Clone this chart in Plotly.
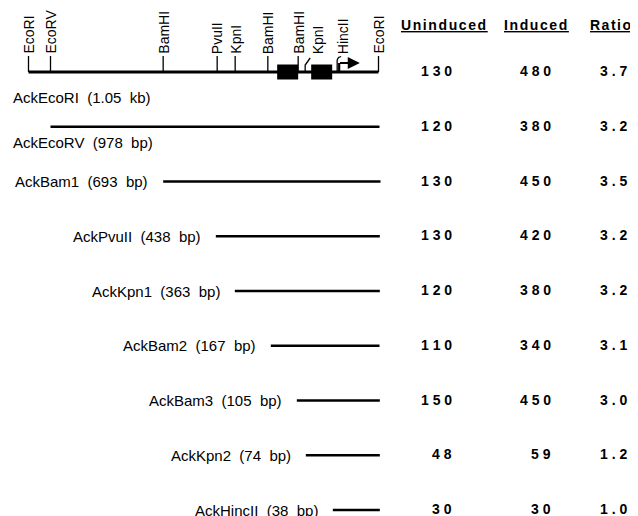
import plotly.graph_objects as go

# ---------------- data ----------------
# restriction map (positions in bp from the left EcoRI site)
site_names = ["EcoRI", "EcoRV", "BamHI", "PvuII", "KpnI", "BamHI", "BamHI", "KpnI", "HincII", "EcoRI"]
site_pos = [0, 66, 404, 566, 620, 718, 809, 830, 926, 1050]
site_label_pos = [0, 66, 404, 566, 620, 718, 809, 868, 944, 1050]
bent_sites = [7, 8]          # sites drawn with a bent leader line
map_length = 1050

# coding-region boxes on the map (bp)
box_start = [746, 848]
box_end = [809, 911]

# promoter arrow (bp)
arrow_start = 932
arrow_end = 994

# deletion constructs
construct_names = ["AckEcoRI (1.05 kb)", "AckEcoRV (978 bp)", "AckBam1 (693 bp)",
                   "AckPvuII (438 bp)", "AckKpn1 (363 bp)", "AckBam2 (167 bp)",
                   "AckBam3 (105 bp)", "AckKpn2 (74 bp)", "AckHincII (38 bp)"]
construct_start = [0, 66, 404, 562, 619, 727, 805, 832, 913]
construct_end = [1050, 1053, 1056, 1054, 1054, 1053, 1054, 1054, 1054]

uninduced = [130, 120, 130, 130, 120, 110, 150, 48, 30]
induced = [480, 380, 450, 420, 380, 340, 450, 59, 30]
ratio = ["3.7", "3.2", "3.5", "3.2", "3.2", "3.1", "3.0", "1.2", "1.0"]
headers = ["Uninduced", "Induced", "Ratio"]

# ---------------- layout helpers ----------------
OFF = 8                 # page body margin of the html page
W, H = 638 - OFF, 516 - OFF
ROW = 54.75            # pixels per row
PXBP = 1 / 3           # pixels per bp
X0 = 28.5 - OFF        # pixel of bp 0 (inside the figure)
Y0 = 72 - OFF          # pixel of row 0 (inside the figure)


def dy(px):
    return px / ROW


def px_x(px):
    # window pixel -> paper fraction
    return (px - OFF) / W


FONT = "Liberation Sans, Arial, Helvetica, sans-serif"

fig = go.Figure()

# main map line
fig.add_trace(go.Scatter(x=[0, map_length], y=[0, 0], mode="lines",
                         line=dict(color="black", width=3), hoverinfo="skip"))

# site ticks
tx, ty = [], []
for i, p in enumerate(site_pos):
    if i in bent_sites:
        continue
    tx += [p, p, None]
    ty += [0, -dy(16), None]
fig.add_trace(go.Scatter(x=tx, y=ty, mode="lines",
                         line=dict(color="black", width=1.3), hoverinfo="skip"))

# bent leader lines (KpnI, HincII)
bx, by = [], []
bx += [site_pos[7], site_pos[7], site_pos[7] + 15, None]
by += [0, -dy(7), -dy(14), None]
bx += [site_pos[8], site_pos[8], site_pos[8] + 4, site_pos[8] + 12, None]
by += [0, -dy(12), -dy(14.5), -dy(15.5), None]
fig.add_trace(go.Scatter(x=bx, y=by, mode="lines",
                         line=dict(color="black", width=1.3), hoverinfo="skip"))

# boxes
for s, e in zip(box_start, box_end):
    fig.add_shape(type="rect", x0=s, x1=e, y0=-dy(7.5), y1=dy(7.5),
                  fillcolor="black", line=dict(color="black", width=0))

# promoter arrow
fig.add_trace(go.Scatter(x=[arrow_start, arrow_start], y=[0, -dy(9)],
                         mode="lines", line=dict(color="black", width=2.2), hoverinfo="skip"))
fig.add_annotation(x=arrow_end, y=-dy(9), ax=arrow_start - 2, ay=-dy(9), axref="x", ayref="y",
                   xref="x", yref="y", text="", showarrow=True, arrowhead=2,
                   arrowsize=1.1, arrowwidth=2.2, arrowcolor="black")

# site labels (rotated)
for name, p in zip(site_names, site_label_pos):
    fig.add_annotation(x=p, y=0, xref="x", yref="y", text=name, textangle=-90,
                       showarrow=False, xanchor="center", yanchor="bottom", yshift=16,
                       font=dict(family=FONT, size=14, color="black"))

# construct lines
cx, cy = [], []
for i, (s, e) in enumerate(zip(construct_start, construct_end)):
    if i == 0:
        continue
    cx += [s, e, None]
    cy += [i, i, None]
fig.add_trace(go.Scatter(x=cx, y=cy, mode="lines",
                         line=dict(color="black", width=2.5), hoverinfo="skip"))

# construct labels
LEFT_BP = (11 - 28.5) * 3
for i, (name, s) in enumerate(zip(construct_names, construct_start)):
    txt = name.replace(" ", "\u00a0 ")
    if i == 0:
        fig.add_annotation(x=LEFT_BP, y=i, xref="x", yref="y", text=txt, showarrow=False,
                           xanchor="left", yanchor="middle", yshift=-25,
                           font=dict(family=FONT, size=15, color="black"))
    elif i == 1:
        fig.add_annotation(x=LEFT_BP, y=i, xref="x", yref="y", text=txt, showarrow=False,
                           xanchor="left", yanchor="middle", yshift=-16,
                           font=dict(family=FONT, size=15, color="black"))
    else:
        fig.add_annotation(x=s, y=i, xref="x", yref="y", text=txt, showarrow=False,
                           xanchor="right", yanchor="middle", xshift=-13,
                           font=dict(family=FONT, size=15, color="black"))

# table headers
col_left = [px_x(399), px_x(502), px_x(588)]
col_spacing = [1.6, 1.6, 1.5]
col_right = [px_x(454), px_x(553), px_x(629)]
for h, xl, ls in zip(headers, col_left, col_spacing):
    fig.add_annotation(x=xl, y=dy(25 - 72), xref="paper", yref="y",
                       text='<b><u><span style="letter-spacing:%.1fpx">%s</span></u></b>' % (ls, h),
                       showarrow=False, xanchor="left", yanchor="middle",
                       font=dict(family=FONT, size=14, color="black"))

# table values
for i in range(len(construct_names)):
    for col, val in enumerate([str(uninduced[i]), str(induced[i]), ratio[i]]):
        fig.add_annotation(x=col_right[col], y=i, xref="paper", yref="y",
                           text="<b>%s</b>" % " ".join(val), showarrow=False,
                           xanchor="right", yanchor="middle", yshift=1,
                           font=dict(family=FONT, size=14, color="black"))

fig.update_layout(
    width=W, height=H, margin=dict(l=0, r=0, t=0, b=0),
    paper_bgcolor="white", plot_bgcolor="white", showlegend=False,
    xaxis=dict(range=[-X0 / PXBP, (W - X0) / PXBP], visible=False, fixedrange=True),
    yaxis=dict(range=[(H - Y0) / ROW, -Y0 / ROW], visible=False, fixedrange=True),
)

fig.write_html("out.html")
